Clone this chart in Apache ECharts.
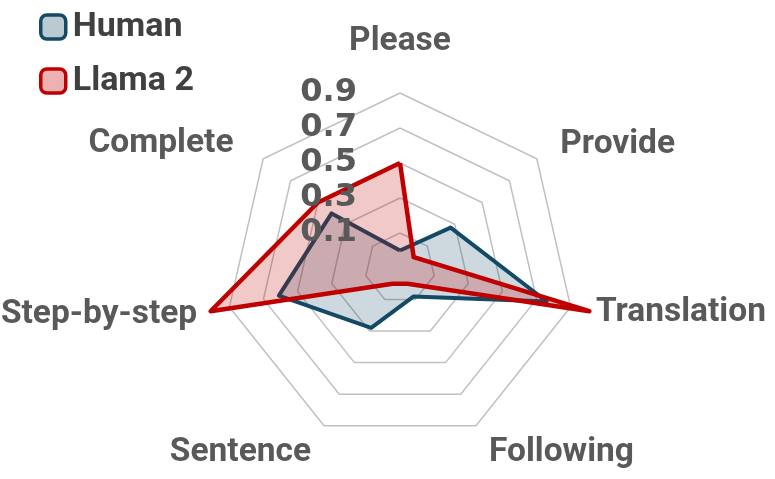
<!DOCTYPE html>
<html>
<head>
<meta charset="utf-8">
<script src="https://cdn.jsdelivr.net/npm/echarts@6/dist/echarts.min.js"></script>
<style>html,body{margin:0;padding:0;background:#fff}#c{width:775px;height:479px}</style>
</head>
<body>
<div id="c"></div>
<script>
// Data (clockwise from top)
var categories = ['Please', 'Provide', 'Translation', 'Following', 'Sentence', 'Step-by-step', 'Complete'];
var human = [0.0, 0.27, 0.76, 0.08, 0.28, 0.61, 0.40];
var llama = [0.50, 0.0, 1.01, 0.0, 0.0, 1.01, 0.50];
var seriesNames = ['Human', 'Llama 2'];
var tickMin = -0.1, tickMax = 0.9;

var nameGaps = [34, 30, 26, 30, 30, 33, 38];
var nameLineHeights = [0, 8, 0, 0, 0, 0, 16];

// ECharts lays indicators counter-clockwise; reorder so they run clockwise.
var order = [0, 6, 5, 4, 3, 2, 1];
function reorder(arr) { return order.map(function (i) { return arr[i]; }); }

var chart = echarts.init(document.getElementById('c'), null, {renderer: 'canvas'});
var indicator = order.map(function (i) {
  var o = {name: categories[i], min: tickMin, max: tickMax, nameGap: nameGaps[i]};
  if (nameLineHeights[i]) o.nameTextStyle = {verticalAlign: 'top', lineHeight: nameLineHeights[i]};
  return o;
});
var labelIndicator = order.map(function (i, k) {
  var o = {name: categories[i], min: tickMin, max: tickMax};
  if (k === 0) o.axisLabel = {show: true};
  return o;
});
var common = {center: [400, 268], radius: 175, shape: 'polygon', splitNumber: 5, startAngle: 90};
chart.setOption({
  animation: false,
  legend: {
    orient: 'vertical', left: 34, top: 5,
    itemWidth: 25, itemHeight: 24, itemGap: 20,
    icon: 'roundRect',
    textStyle: {fontFamily: 'Roboto', fontWeight: 'bold', fontSize: 34, color: '#404040', lineHeight: 34, padding: [0, 0, 0, 2]},
    data: [
      {name: seriesNames[0], itemStyle: {color: '#b9cad3', borderColor: '#134a66', borderWidth: 3.5}},
      {name: seriesNames[1], itemStyle: {color: '#ecb2b2', borderColor: '#c00000', borderWidth: 3.5}}
    ]
  },
  radar: [
    Object.assign({}, common, {
      indicator: indicator,
      axisName: {fontFamily: 'Roboto', fontWeight: 'bold', fontSize: 33.5, color: '#595959'},
      axisLine: {show: false},
      splitArea: {show: false},
      splitLine: {lineStyle: {color: '#c0c0c0', width: 1.5}},
      axisTick: {show: false},
      axisLabel: {show: false}
    }),
    Object.assign({}, common, {
      z: 10,
      indicator: labelIndicator,
      axisName: {show: false},
      axisLine: {show: false},
      splitArea: {show: false},
      splitLine: {show: false},
      axisTick: {show: false},
      axisLabel: {
        show: false, showMinLabel: false,
        fontFamily: 'DejaVu Sans', fontWeight: 'bold', fontSize: 32, color: '#595959',
        margin: 43,
        formatter: function (v) { return (+v).toFixed(1); }
      }
    })
  ],
  series: [{
    type: 'radar',
    radarIndex: 0,
    symbol: 'none',
    data: [
      {name: seriesNames[0], value: reorder(human),
       lineStyle: {color: '#134a66', width: 4}, itemStyle: {color: '#134a66'},
       areaStyle: {color: 'rgba(19,74,102,0.3)'}},
      {name: seriesNames[1], value: reorder(llama),
       lineStyle: {color: '#c00000', width: 4.5}, itemStyle: {color: '#c00000'},
       areaStyle: {color: 'rgba(192,0,0,0.3)'}}
    ]
  }]
});
</script>
</body>
</html>
